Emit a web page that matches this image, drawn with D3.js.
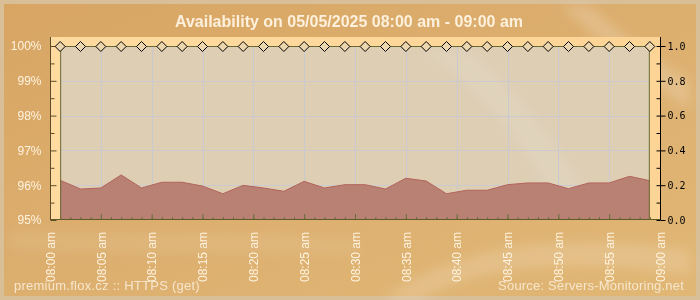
<!DOCTYPE html>
<html>
<head>
<meta charset="utf-8">
<script src="https://cdn.jsdelivr.net/npm/d3@7"></script>
<style>
  body { margin: 0; }
  svg { display: block; font-family: "Liberation Sans", Arial, sans-serif; }
</style>
</head>
<body>
<div id="chart-area"></div>
<script>
const W = 700, H = 300;

// data: 30 checks, every 2 minutes
const times = ['08:01', '08:03', '08:05', '08:07', '08:09', '08:11', '08:13', '08:15', '08:17', '08:19',
  '08:21', '08:23', '08:25', '08:27', '08:29', '08:31', '08:33', '08:35', '08:37', '08:39',
  '08:41', '08:43', '08:45', '08:47', '08:49', '08:51', '08:53', '08:55', '08:57', '08:59'];
const availability = [100, 100, 100, 100, 100, 100, 100, 100, 100, 100,
  100, 100, 100, 100, 100, 100, 100, 100, 100, 100,
  100, 100, 100, 100, 100, 100, 100, 100, 100, 100];
const responseTime = [0.228, 0.178, 0.184, 0.259, 0.184, 0.217, 0.217, 0.195, 0.151, 0.199,
  0.184, 0.165, 0.222, 0.184, 0.203, 0.203, 0.178, 0.240, 0.224, 0.151,
  0.171, 0.171, 0.203, 0.213, 0.213, 0.180, 0.213, 0.213, 0.251, 0.226];
const leftTicks = [95, 96, 97, 98, 99, 100];
const leftMinor = [95.5, 96.5, 97.5, 98.5, 99.5];
const rightTicks = [0, 0.2, 0.4, 0.6, 0.8, 1.0];
const rightMinor = [0.1, 0.3, 0.5, 0.7, 0.9];
const xLabels = ['08:00 am', '08:05 am', '08:10 am', '08:15 am', '08:20 am', '08:25 am', '08:30 am',
  '08:35 am', '08:40 am', '08:45 am', '08:50 am', '08:55 am', '09:00 am'];

const title = 'Availability on 05/05/2025 08:00 am - 09:00 am';
const footLeft = 'premium.flox.cz :: HTTPS (get)';
const footRight = 'Source: Servers-Monitoring.net';

const parse = d3.timeParse('%H:%M');
const parseLabel = d3.timeParse('%H:%M %p');
const data = times.map((t, i) => ({t: parse(t), a: availability[i], r: responseTime[i]}));

const svg = d3.select('#chart-area')
  .append('svg')
  .attr('width', W)
  .attr('height', H);

const defs = svg.append('defs');

const bgGrad = defs.append('linearGradient')
  .attr('id', 'bg')
  .attr('x1', 0).attr('y1', 0).attr('x2', 1).attr('y2', 1);
bgGrad.append('stop').attr('offset', '0%').attr('stop-color', '#d8a563');
bgGrad.append('stop').attr('offset', '55%').attr('stop-color', '#ddb070');
bgGrad.append('stop').attr('offset', '100%').attr('stop-color', '#e1b775');

const stripGrad = defs.append('linearGradient')
  .attr('id', 'strip')
  .attr('x1', 0).attr('y1', 0).attr('x2', 1).attr('y2', 0);
stripGrad.append('stop').attr('offset', '0%').attr('stop-color', '#ffdba0');
stripGrad.append('stop').attr('offset', '100%').attr('stop-color', '#fcd496');

defs.append('filter')
  .attr('id', 'soft')
  .append('feGaussianBlur')
  .attr('stdDeviation', 6);

// background + frame
svg.append('rect')
  .attr('width', W).attr('height', H)
  .attr('fill', '#d9bf98');
svg.append('rect')
  .attr('x', 4).attr('y', 4)
  .attr('width', W - 8).attr('height', H - 8)
  .attr('fill', 'url(#bg)');

// faint light streaks of the texture
const streaks = svg.append('g')
  .attr('fill', '#fff')
  .attr('filter', 'url(#soft)');
streaks.append('path')
  .attr('d', 'M560,5 C600,40 630,70 690,110 L690,80 C640,50 610,25 590,5 Z')
  .attr('opacity', 0.18);
streaks.append('path')
  .attr('d', 'M380,300 C450,250 540,230 690,250 L690,275 C560,255 470,270 420,300 Z')
  .attr('opacity', 0.16);
streaks.append('path')
  .attr('d', 'M10,230 C120,235 250,230 360,240 L360,255 C250,250 120,255 10,250 Z')
  .attr('opacity', 0.08);

// scales
const x = d3.scaleTime()
  .domain([parse('08:00'), parse('09:00')])
  .range([50, 660]);

const yL = d3.scaleLinear()
  .domain([95, 100])
  .range([220, 46]);

const yR = d3.scaleLinear()
  .domain([0, 1])
  .range([220, 46]);

const plotL = x(data[0].t), plotR = x(data[data.length - 1].t);

// chart box + plot area
svg.append('rect')
  .attr('x', 50).attr('y', 37)
  .attr('width', 610).attr('height', 183)
  .attr('fill', 'url(#strip)');
svg.append('rect')
  .attr('x', plotL).attr('y', yL(100))
  .attr('width', plotR - plotL).attr('height', yL(95) - yL(100))
  .attr('fill', '#ddceb4');

const clip = defs.append('clipPath').attr('id', 'plot-clip');
clip.append('rect')
  .attr('x', plotL).attr('y', yL(100))
  .attr('width', plotR - plotL).attr('height', yL(95) - yL(100));

svg.append('path')
  .attr('clip-path', 'url(#plot-clip)')
  .attr('d', 'M420,50 C480,90 520,140 560,215 L600,215 C560,140 520,90 470,50 Z')
  .attr('fill', '#fff')
  .attr('filter', 'url(#soft)')
  .attr('opacity', 0.1);

// grid
const grid = svg.append('g')
  .attr('stroke', '#c9c9cf')
  .attr('stroke-width', 1);
grid.selectAll('.hgrid')
  .data(leftTicks.filter(d => d > 95 && d < 100))
  .enter().append('line')
  .attr('x1', plotL).attr('x2', plotR)
  .attr('y1', d => Math.round(yL(d)) + 0.5)
  .attr('y2', d => Math.round(yL(d)) + 0.5);
grid.selectAll('.vgrid')
  .data(x.ticks(d3.timeMinute.every(5)).filter(d => x(d) > plotL && x(d) < plotR))
  .enter().append('line')
  .attr('x1', d => Math.round(x(d)) + 0.5).attr('x2', d => Math.round(x(d)) + 0.5)
  .attr('y1', yL(100)).attr('y2', yL(95));

// response time area
const area = d3.area()
  .x(d => x(d.t))
  .y0(yR(0))
  .y1(d => yR(d.r));
const line = d3.line()
  .x(d => x(d.t))
  .y(d => yR(d.r));

svg.append('path')
  .datum(data)
  .attr('d', area)
  .attr('fill', '#b98174');
svg.append('path')
  .datum(data)
  .attr('d', line)
  .attr('fill', 'none')
  .attr('stroke', '#b3645a')
  .attr('stroke-width', 1);

// plot borders
svg.append('line')
  .attr('x1', plotL + 0.5).attr('x2', plotL + 0.5)
  .attr('y1', yL(100)).attr('y2', 220)
  .attr('stroke', '#6b6a32');
svg.append('line')
  .attr('x1', plotR - 0.5).attr('x2', plotR - 0.5)
  .attr('y1', yL(100)).attr('y2', 220)
  .attr('stroke', '#6b6a32');

// bottom axis ticks (minutes, 5-minute marks longer)
const xMinor = svg.append('g')
  .attr('transform', 'translate(0,220)')
  .call(d3.axisBottom(x).ticks(d3.timeMinute.every(1)).tickSize(-3).tickFormat(''));
const xMajor = svg.append('g')
  .attr('transform', 'translate(0,220)')
  .call(d3.axisBottom(x).ticks(d3.timeMinute.every(5)).tickSize(-6).tickFormat(''));
[xMinor, xMajor].forEach(g => {
  g.select('.domain').remove();
  g.selectAll('line').attr('stroke', '#68703a');
});

svg.append('line')
  .attr('x1', 50).attr('x2', 660)
  .attr('y1', 219.5).attr('y2', 219.5)
  .attr('stroke', '#5e5a2c');

// x labels, rotated
const xLab = svg.append('g')
  .attr('transform', 'translate(0,220)')
  .call(d3.axisBottom(x)
    .tickValues(xLabels.map(s => parseLabel(s.replace('am', 'AM'))))
    .tickSize(0)
    .tickFormat((d, i) => xLabels[i]));
xLab.select('.domain').remove();
xLab.selectAll('text')
  .attr('x', 0).attr('y', 0)
  .attr('dy', '0.35em')
  .attr('transform', 'translate(0,12) rotate(-90)')
  .attr('text-anchor', 'end')
  .attr('font-size', '12px')
  .attr('font-family', '"Liberation Sans", Arial, sans-serif')
  .attr('fill', '#fff3df');

// left axis
const yLeftAxis = svg.append('g')
  .attr('transform', 'translate(50.5,0)')
  .call(d3.axisLeft(yL).tickValues(leftTicks).tickSize(-6).tickPadding(9).tickFormat(d => d + '%'));
const yLeftMinor = svg.append('g')
  .attr('transform', 'translate(50.5,0)')
  .call(d3.axisLeft(yL).tickValues(leftMinor).tickSize(-4).tickFormat(''));
[yLeftAxis, yLeftMinor].forEach(g => {
  g.select('.domain').remove();
  g.selectAll('line').attr('stroke', '#5e4c28');
});
yLeftAxis.selectAll('text')
  .attr('font-size', '12px')
  .attr('font-family', '"Liberation Sans", Arial, sans-serif')
  .attr('fill', '#fff3df');
svg.append('line')
  .attr('x1', 50.5).attr('x2', 50.5)
  .attr('y1', 37).attr('y2', 220)
  .attr('stroke', '#5e4c28');

// right axis
const yRightAxis = svg.append('g')
  .attr('transform', 'translate(660.5,0)')
  .call(d3.axisRight(yR).tickValues(rightTicks).tickSize(5).tickPadding(2).tickFormat(d3.format('.1f')));
const yRightMinor = svg.append('g')
  .attr('transform', 'translate(660.5,0)')
  .call(d3.axisRight(yR).tickValues(rightMinor.concat(rightTicks)).tickSize(-4).tickFormat(''));
[yRightAxis, yRightMinor].forEach(g => {
  g.select('.domain').remove();
  g.selectAll('line').attr('stroke', '#000');
});
yRightAxis.selectAll('text')
  .attr('font-size', '10px')
  .attr('font-family', '"DejaVu Sans Mono", monospace')
  .attr('fill', '#000');
svg.append('line')
  .attr('x1', 660.5).attr('x2', 660.5)
  .attr('y1', 37).attr('y2', 220)
  .attr('stroke', '#000');

// availability line + diamond markers
svg.append('path')
  .datum(data)
  .attr('d', d3.line().x(d => x(d.t)).y(d => yL(d.a) + 0.5))
  .attr('fill', 'none')
  .attr('stroke', '#6b6a32')
  .attr('stroke-width', 1);
svg.selectAll('.marker')
  .data(data)
  .enter().append('path')
  .attr('class', 'marker')
  .attr('transform', d => `translate(${x(d.t)},${yL(d.a) + 0.5})`)
  .attr('d', 'M0,-5 L5,0 L0,5 L-5,0 Z')
  .attr('fill', '#ecd6ae')
  .attr('stroke', '#000')
  .attr('stroke-width', 1);

// title and footers
svg.append('text')
  .attr('x', 349)
  .attr('y', 27)
  .attr('text-anchor', 'middle')
  .attr('font-size', '16px')
  .attr('font-weight', 'bold')
  .attr('fill', '#fdf0dc')
  .text(title);

svg.append('text')
  .attr('x', 14)
  .attr('y', 290)
  .attr('font-size', '13px')
  .attr('letter-spacing', '0.25px')
  .attr('fill', '#f6e6cc')
  .text(footLeft);

svg.append('text')
  .attr('x', 684)
  .attr('y', 290)
  .attr('text-anchor', 'end')
  .attr('font-size', '13px')
  .attr('letter-spacing', '0.2px')
  .attr('fill', '#f6e6cc')
  .text(footRight);
</script>
</body>
</html>
